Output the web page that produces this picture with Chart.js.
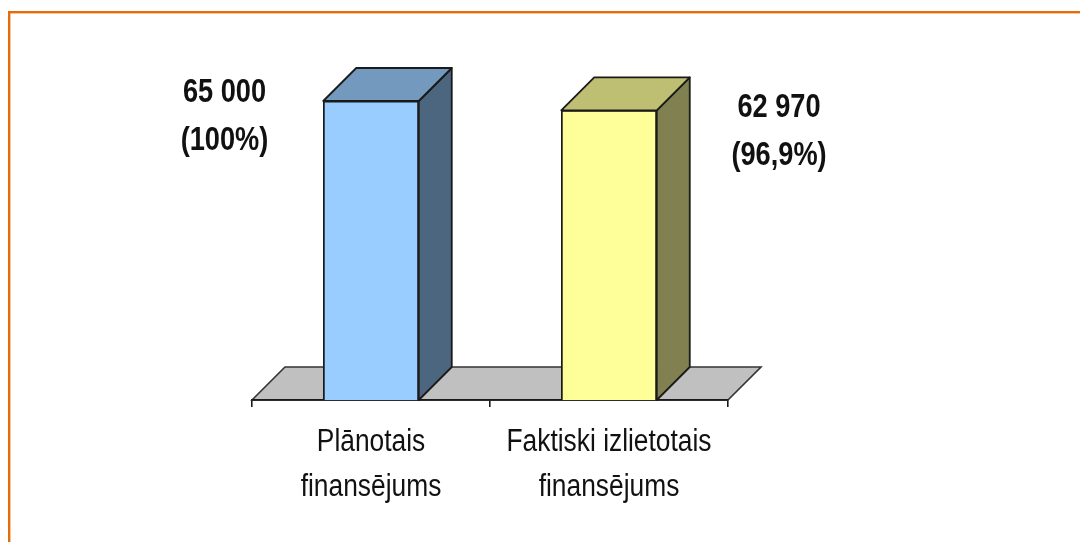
<!DOCTYPE html>
<html><head><meta charset="utf-8">
<style>html,body{margin:0;padding:0;background:#fff;overflow:hidden}#w{position:absolute;left:0;top:0;width:1080px;height:542px}</style>
<script src="https://cdn.jsdelivr.net/npm/chart.js@4"></script></head>
<body><div id="w"><canvas id="c" width="1080" height="542"></canvas></div>
<script>
const categories = [["Plānotais","finansējums"],["Faktiski izlietotais","finansējums"]];
const values = [65000, 62970];
const valueLabels = [["65 000","(100%)"],["62 970","(96,9%)"]];
const frontColors = ["#99CCFF","#FFFF99"];
const sideColors = ["#4D6680","#808050"];
const topColors = ["#7399BF","#BFBF73"];
const FONT = '"Liberation Sans",Arial,sans-serif';
const DEPTH = 33;
const labelPlace = [{dx:-146.5,y:-8,h:48},{dx:170,y:-3,h:48}];
const SQUEEZE_TICK = 0.85, SQUEEZE_VALUE = 0.80;

/* The reference text is horizontally condensed: draw all canvas text through a squeeze. */
const canvas = document.getElementById('c');
const rawCtx = canvas.getContext('2d');
const origFillText = rawCtx.fillText.bind(rawCtx);
let squeeze = SQUEEZE_TICK;
rawCtx.fillText = function(t,x,y){
  rawCtx.save();rawCtx.scale(squeeze,1);origFillText(t,x/squeeze,y);rawCtx.restore();
};

function poly(ctx,pts,fill,stroke,lw){
  ctx.beginPath();pts.forEach((p,i)=>i?ctx.lineTo(p[0],p[1]):ctx.moveTo(p[0],p[1]));ctx.closePath();
  if(fill){ctx.fillStyle=fill;ctx.fill();}
  if(stroke){ctx.strokeStyle=stroke;ctx.lineWidth=lw||1.8;ctx.stroke();}
}
const plugin3d={
  id:'plugin3d',
  beforeDraw(chart){
    const {ctx,chartArea:a}=chart;
    ctx.save();
    ctx.fillStyle='#fff';ctx.fillRect(0,0,chart.width,chart.height);
    ctx.fillStyle='#E46C0A';
    ctx.fillRect(8,11,1072,2.4);
    ctx.fillRect(8,11,2.4,531);
    poly(ctx,[[a.left,a.bottom],[a.left+DEPTH,a.bottom-DEPTH],[a.right+DEPTH,a.bottom-DEPTH],[a.right,a.bottom]],'#C0C0C0','#333',1.6);
    ctx.restore();
  },
  afterDatasetsDraw(chart){
    const {ctx}=chart;
    const m=chart.getDatasetMeta(0);
    ctx.save();ctx.lineJoin='round';
    squeeze=SQUEEZE_VALUE;
    m.data.forEach((b,i)=>{
      const l=b.x-b.width/2,r=b.x+b.width/2,t=b.y,bt=b.base;
      poly(ctx,[[r,t],[r+DEPTH,t-DEPTH],[r+DEPTH,bt-DEPTH],[r,bt]],sideColors[i],'#1a1a1a',1.8);
      poly(ctx,[[l,t],[l+DEPTH,t-DEPTH],[r+DEPTH,t-DEPTH],[r,t]],topColors[i],'#1a1a1a',1.8);
      const P=labelPlace[i];
      ctx.fillStyle='#111';ctx.font='bold 34px '+FONT;ctx.textAlign='center';ctx.textBaseline='middle';
      valueLabels[i].forEach((s,k)=>ctx.fillText(s,b.x+P.dx,t+P.y+k*P.h));
    });
    squeeze=SQUEEZE_TICK;
    ctx.restore();
  }
};
new Chart(canvas,{
  type:'bar',
  data:{labels:categories,datasets:[{data:values,backgroundColor:frontColors,borderColor:'#1a1a1a',borderWidth:1.8,barThickness:95.5}]},
  plugins:[plugin3d],
  options:{
    responsive:false,animation:false,
    layout:{padding:{left:252,right:352,top:78,bottom:0}},
    plugins:{legend:{display:false},tooltip:{enabled:false}},
    scales:{
      y:{display:false,min:0,max:70000},
      x:{
        offset:true,
        border:{display:true,color:'#1a1a1a',width:1.8},
        grid:{display:true,drawOnChartArea:false,drawTicks:true,tickLength:7,color:'#1a1a1a',lineWidth:1.6},
        ticks:{autoSkip:false,maxRotation:0,minRotation:0,padding:13,color:'#111',font:{family:FONT,size:31,lineHeight:'45px'}},
        afterFit(s){s.height=142;}
      }
    }
  }
});
</script></body></html>
